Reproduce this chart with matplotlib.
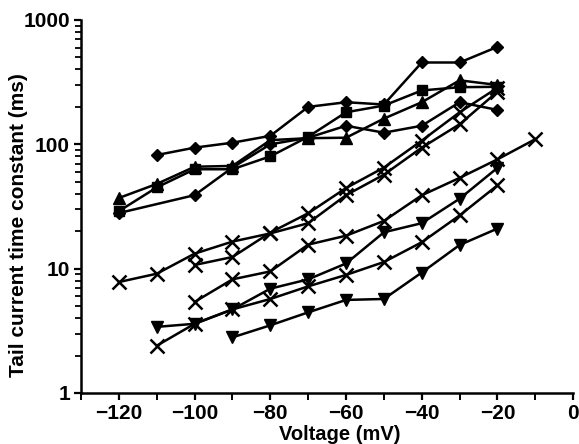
import matplotlib
matplotlib.use("Agg")
import matplotlib.pyplot as plt
from matplotlib.ticker import FixedLocator, LogLocator, NullFormatter

plt.rcParams["font.family"] = ["Liberation Sans", "DejaVu Sans"]
plt.rcParams["font.weight"] = "bold"

# ── Data (voltage in mV, time constant in ms) ─────────────────────
v_d1 = [-110, -100, -90, -80, -70, -60, -50, -40, -30, -20]
tau_d1 = [82, 94, 103, 117, 200, 218, 209, 455, 455, 608]

v_tri = [-120, -110, -100, -90, -80, -70, -60, -50, -40, -30, -20]
tau_tri = [37, 48, 66, 67, 108, 112, 113, 161, 218, 327, 300]

v_sq = [-120, -110, -100, -90, -80, -70, -60, -50, -40, -30, -20]
tau_sq = [29, 45, 63, 63, 80, 115, 181, 205, 271, 288, 290]

v_d2 = [-120, -100, -90, -80, -70, -60, -50, -40, -30, -20]
tau_d2 = [28, 39, 65, 100, 113, 141, 124, 141, 218, 189]

v_x1 = [-120, -110, -100, -90, -80, -70, -60, -50, -40, -30, -20]
tau_x1 = [7.8, 9.1, 13.2, 16.5, 19.2, 23.2, 39, 57, 94, 145, 265]

v_x1b = [-100, -90, -80, -70, -60, -50, -40, -30, -20]
tau_x1b = [10.7, 12.4, 19.5, 27.9, 44.5, 65, 107, 181, 285]

v_x2 = [-100, -90, -80, -70, -60, -50, -40, -30, -20, -10]
tau_x2 = [5.4, 8.2, 9.5, 15.6, 18.4, 24.2, 38.9, 53.7, 75.7, 110]

v_x3 = [-110, -100, -90, -80, -70, -60, -50, -40, -30, -20]
tau_x3 = [2.4, 3.6, 4.7, 5.7, 7.2, 8.9, 11.3, 16.3, 26.8, 46.8]

v_v1 = [-110, -100, -90, -80, -70, -60, -50, -40, -30, -20]
tau_v1 = [3.4, 3.6, 4.7, 6.9, 8.2, 11, 19.6, 23.2, 36.5, 64.7]

v_v2 = [-90, -80, -70, -60, -50, -40, -30, -20]
tau_v2 = [2.8, 3.5, 4.45, 5.6, 5.7, 9.3, 15.5, 21]

x_ticks = [-120, -100, -80, -60, -40, -20, 0]
y_ticks = [1, 10, 100, 1000]

# ── Figure ────────────────────────────────────────────────────────
fig = plt.figure(figsize=(5.79, 4.44), dpi=100)
ax = fig.add_axes([0.140, 0.115, 0.850, 0.840])

line_kw = dict(color="black", linewidth=1.8)
ax.plot(v_d1, tau_d1, marker="D", markersize=6.5, **line_kw)
ax.plot(v_tri, tau_tri, marker="^", markersize=8.5, **line_kw)
ax.plot(v_sq, tau_sq, marker="s", markersize=7, **line_kw)
ax.plot(v_d2, tau_d2, marker="D", markersize=6.5, **line_kw)
for v, t in [(v_x1, tau_x1), (v_x1b, tau_x1b), (v_x2, tau_x2), (v_x3, tau_x3)]:
    ax.plot(v, t, marker="x", markersize=10, markeredgewidth=1.8, **line_kw)
ax.plot(v_v1, tau_v1, marker="v", markersize=8.5, **line_kw)
ax.plot(v_v2, tau_v2, marker="v", markersize=8.5, **line_kw)

ax.set_yscale("log")
ax.set_xlim(-130, 0)
ax.set_ylim(1, 1000)

ax.set_xticks(x_ticks)
ax.xaxis.set_minor_locator(FixedLocator(range(-130, 0, 10)))
ax.set_yticks(y_ticks)
ax.set_yticklabels([str(t) for t in y_ticks])
ax.yaxis.set_minor_locator(LogLocator(base=10, subs=range(2, 10)))
ax.yaxis.set_minor_formatter(NullFormatter())

ax.tick_params(axis="both", which="major", labelsize=15, width=1.6,
               length=5, direction="out", color="black", pad=3)
ax.tick_params(axis="x", which="minor", length=5, width=1.4, direction="out")
ax.tick_params(axis="y", which="minor", length=4, width=1.3, direction="out")

ax.spines["top"].set_visible(False)
ax.spines["right"].set_visible(False)
ax.spines["left"].set_linewidth(1.8)
ax.spines["bottom"].set_linewidth(1.8)

ax.set_xlabel("Voltage (mV)", fontsize=14.5, fontweight="bold")
ax.set_ylabel("Tail current time constant (ms)", fontsize=15,
              fontweight="bold")
ax.xaxis.set_label_coords(0.525, -0.085)
ax.yaxis.set_label_coords(-0.108, 0.45)

fig.savefig("out.png", dpi=100, facecolor="white")
